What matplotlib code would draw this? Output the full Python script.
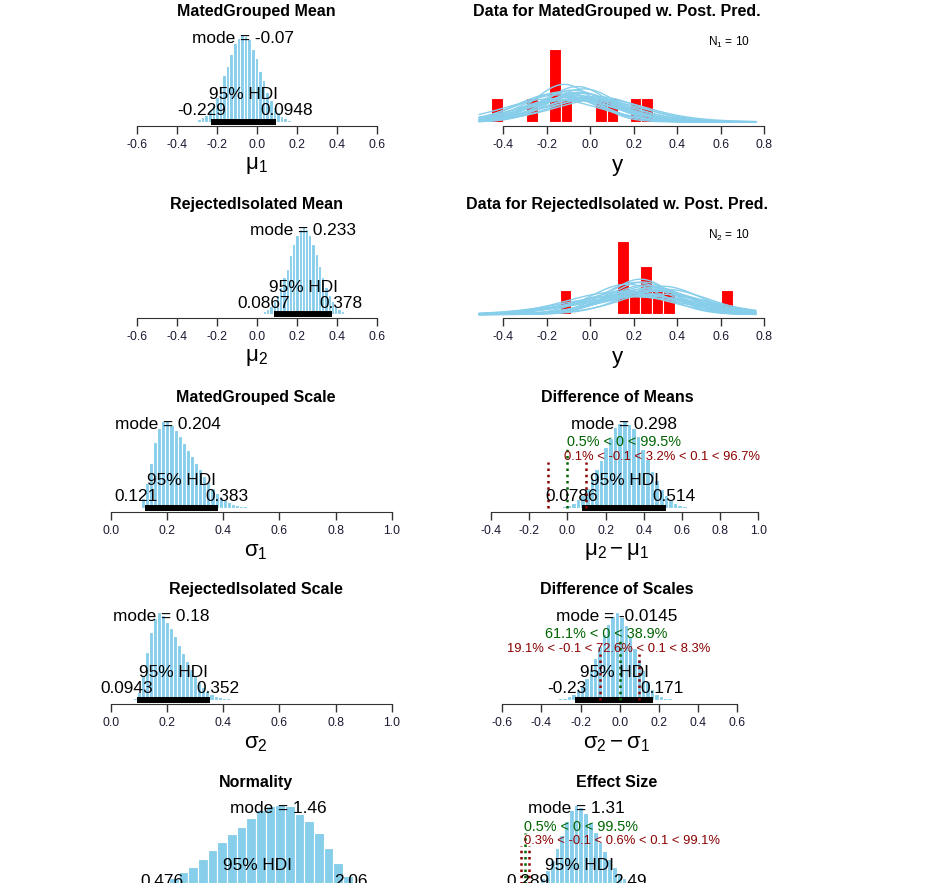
import math
import numpy as np
import matplotlib.pyplot as plt
from matplotlib.transforms import ScaledTranslation

plt.rcParams['font.family'] = ['Liberation Sans', 'DejaVu Sans']
plt.rcParams['mathtext.fontset'] = 'custom'
plt.rcParams['mathtext.rm'] = 'Liberation Sans'
plt.rcParams['mathtext.it'] = 'Liberation Sans'
plt.rcParams['mathtext.bf'] = 'Liberation Sans:bold'
plt.rcParams['axes.unicode_minus'] = False

groups = ["MatedGrouped", "RejectedIsolated"]

y1 = [-0.43, -0.27, -0.17, -0.16, -0.15, -0.11, 0.05, 0.10, 0.21, 0.26]
y2 = [-0.11, 0.14, 0.15, 0.16, 0.20, 0.25, 0.26, 0.31, 0.36, 0.63]
data_bin_w = 0.053
y1_first_edge = -0.4545
y2_first_edge = -0.1405

# posterior predictive draws (mu, sigma, nu) behind the light blue curves
pp_mu1 = [-0.12, -0.05, -0.15, -0.02, -0.08, -0.10, 0.03, -0.06, -0.18, -0.04,
          -0.09, 0.01, -0.13, -0.07, -0.03, -0.11, 0.05, -0.16, -0.06, -0.01]
pp_sigma1 = [0.136, 0.17, 0.19, 0.21, 0.16, 0.23, 0.20, 0.145, 0.22, 0.18,
             0.20, 0.23, 0.17, 0.19, 0.155, 0.21, 0.22, 0.18, 0.22, 0.20]
pp_mu2 = [0.23, 0.28, 0.18, 0.25, 0.31, 0.21, 0.15, 0.26, 0.33, 0.20,
          0.24, 0.12, 0.29, 0.22, 0.27, 0.19, 0.35, 0.25, 0.17, 0.30]
pp_sigma2 = [0.145, 0.19, 0.22, 0.17, 0.25, 0.16, 0.27, 0.20, 0.18, 0.29,
             0.155, 0.23, 0.21, 0.26, 0.18, 0.24, 0.20, 0.28, 0.17, 0.22]
pp_nu = [30, 12, 50, 8, 25, 40, 15, 60, 20, 35, 10, 80, 28, 18, 45, 22, 9, 33, 70, 26]

# posterior histograms: first bin centre, bin width, bar heights (relative density)
mu1_start, mu1_bw = -0.291, 0.018
mu1_hist = [3, 4.5, 7, 12, 17, 25, 35, 47, 56, 68, 79, 84, 88, 86, 83, 73, 64, 51, 42, 30,
            22, 15, 10, 6, 3.5, 2]
mu2_start, mu2_bw = 0.038, 0.0162
mu2_hist = [3, 5, 8, 13, 19, 27, 37, 46, 60, 71, 80, 86, 88, 86, 80, 71, 61, 49, 37, 27,
            19, 13, 8, 5, 3, 1.6]
sigma1_start, sigma1_bw = 0.114, 0.0146
sigma1_hist = [10, 25, 45, 66, 80, 87, 88, 83, 78, 72, 65, 58, 52, 45, 39, 32, 26, 20, 15, 11,
               8, 6, 4, 3, 2, 1.5]
sigma2_start, sigma2_bw = 0.087, 0.0143
sigma2_hist = [2, 8, 25, 48, 68, 82, 88, 85, 78, 72, 64, 55, 47, 39, 31, 24, 18, 13, 9, 6,
               4, 3, 2, 1.5, 1]
nu_start, nu_bw = 0.242, 0.088
nu_hist = [3, 6, 10, 15, 21, 26, 34, 43, 51, 59, 66, 75, 83, 88, 89, 88, 79, 72, 60, 45,
           30, 17, 9, 4, 2]
dmu_start, dmu_bw = -0.0166, 0.0242
dmu_hist = [1.5, 3, 5, 9, 13, 20, 29, 39, 48, 61, 70, 81, 85, 88, 84, 80, 72, 59, 49, 37,
            28, 19, 13, 8, 5, 3, 1.5]
dsig_start, dsig_bw = -0.304, 0.0223
dsig_hist = [1.5, 2, 3.5, 6, 10, 15, 22, 31, 42, 54, 66, 76, 84, 88, 83, 75, 64, 52, 41, 30,
             19, 11, 6, 3.5, 2, 1.5]
eff_start, eff_bw = -0.164, 0.122
eff_hist = [0.5, 1, 2, 4, 8, 14, 22, 32, 45, 58, 72, 83, 88, 86, 80, 71, 61, 51, 41, 33,
            25, 19, 14, 10, 7, 5, 3, 2]

# summaries
modes = {'mu1': -0.07, 'mu2': 0.233, 'sigma1': 0.204, 'sigma2': 0.18, 'nu': 1.46,
         'dmu': 0.298, 'dsig': -0.0145, 'eff': 1.31}
hdis = {'mu1': (-0.229, 0.0948), 'mu2': (0.0867, 0.378), 'sigma1': (0.121, 0.383),
        'sigma2': (0.0943, 0.352), 'nu': (0.476, 2.06), 'dmu': (0.0786, 0.514),
        'dsig': (-0.23, 0.171), 'eff': (0.289, 2.49)}
rope = (-0.1, 0.1)
cv_pct = {'dmu': (0.5, 99.5), 'dsig': (61.1, 38.9), 'eff': (0.5, 99.5)}
rope_pct = {'dmu': (0.1, 3.2, 96.7), 'dsig': (19.1, 72.6, 8.3), 'eff': (0.3, 0.6, 99.1)}

W, H = 950, 883
fig = plt.figure(figsize=(9.5, 8.83), dpi=100)
col_px = [(107, 405), (468, 766)]
row_axis_px = [125.5, 318, 511.5, 703.5, 896]
PLOT_H = 95


def t_pdf(x, mu, sigma, nu):
    z = (x - mu) / sigma
    c = math.exp(math.lgamma((nu + 1) / 2) - math.lgamma(nu / 2)) / math.sqrt(nu * math.pi)
    return c * (1 + z ** 2 / nu) ** (-(nu + 1) / 2) / sigma


def new_ax(col, row, zero_px, ppu, ticks, ymax, title, xlab):
    left, right = col_px[col]
    base = row_axis_px[row]
    ax = fig.add_axes([left / W, 1 - base / H, (right - left) / W, PLOT_H / H])
    ax.set_xlim((left - zero_px) / ppu, (right - zero_px) / ppu)
    ax.set_ylim(-0.04 * ymax, 1.04 * ymax)
    for s in ['left', 'right', 'top']:
        ax.spines[s].set_visible(False)
    ax.spines['bottom'].set_bounds(ticks[0], ticks[-1])
    ax.spines['bottom'].set_color('#333333')
    ax.set_yticks([])
    ax.set_xticks(ticks)
    ax.set_xticklabels([f"{t:.1f}" for t in ticks])
    ax.tick_params(axis='x', length=5.5, width=1, pad=4, labelsize=8.8,
                   color='#333333', labelcolor='#1a1a33')
    ax.set_title(title, fontsize=11.5, fontweight='bold', pad=10.4)
    ax.annotate(xlab, xy=(0.5, 0), xycoords='axes fraction', xytext=(0, -28.5),
                textcoords='offset points', ha='center', va='center', fontsize=16)
    ax.patch.set_visible(False)
    return ax


def put(ax, x, y, s, adj, dy_px=0, size=12.4, color='black'):
    t = ax.text(x, y, s, ha='left', va='baseline', fontsize=size, color=color, zorder=5)
    w = t.get_window_extent(renderer=fig.canvas.get_renderer()).width
    t.set_transform(ax.transData + ScaledTranslation(-adj * w / fig.dpi, dy_px / fig.dpi,
                                                     fig.dpi_scale_trans))


def post_panel(col, row, zero_px, ppu, ticks, start, bw, heights, key, title, xlab, comp=False):
    M = max(heights)
    ax = new_ax(col, row, zero_px, ppu, ticks, M, title, xlab)
    centers = start + bw * np.arange(len(heights))
    ax.bar(centers, heights, width=bw, color='#87CEEB', edgecolor='white', linewidth=0.8)
    hdi = hdis[key]
    mode = modes[key]
    ax.plot(hdi, [0, 0], color='black', lw=4.3, solid_capstyle='butt', zorder=4)
    put(ax, mode, 0.9 * M, f"mode = {mode}", 0.5)
    put(ax, np.mean(hdi), 0, "95% HDI", 0.5, dy_px=22.7)
    put(ax, hdi[0], 0, f"{hdi[0]}", 0.7, dy_px=6.7)
    put(ax, hdi[1], 0, f"{hdi[1]}", 0.3, dy_px=6.7)
    if comp:
        lo, hi = cv_pct[key]
        ax.plot([0, 0], [0, 0.96 * 0.7 * M], color='darkgreen', lw=1.8, ls=(0, (1, 1.5)), zorder=4)
        put(ax, 0, 0.7 * M, f"{lo}% < 0 < {hi}%", lo / 100, size=10.4, color='darkgreen')
        for r in rope:
            ax.plot([r, r], [0, 0.96 * 0.55 * M], color='darkred', lw=1.8, ls=(0, (1, 1.5)), zorder=4)
        a, b, c = rope_pct[key]
        put(ax, np.mean(rope), 0.55 * M, f"{a}% < {rope[0]} < {b}% < {rope[1]} < {c}%",
            (a + 0.5 * b) / 100, size=9.4, color='darkred')
    return ax


def data_panel(row, y, first_edge, mus, sigmas, title, nlabel):
    ymax = 6.8
    ax = new_ax(1, row, 590.3, 217.5, [-0.4, -0.2, 0.0, 0.2, 0.4, 0.6, 0.8], ymax, title, 'y')
    edges = first_edge + data_bin_w * np.arange(16)
    ax.hist(y, bins=edges, density=True, color='red', edgecolor='white', linewidth=0.8)
    xv = np.linspace(-0.51, 0.76, 200)
    for m, s, n in zip(mus, sigmas, pp_nu):
        ax.plot(xv, t_pdf(xv, m, s, n), color='#87CEEB', lw=1)
    ax.text(0.734, ymax * 0.985, nlabel, ha='right', va='top', fontsize=8.6)
    return ax


mu_ticks = [-0.6, -0.4, -0.2, 0.0, 0.2, 0.4, 0.6]
sig_ticks = [0.0, 0.2, 0.4, 0.6, 0.8, 1.0]

post_panel(0, 0, 257.0, 199.5, mu_ticks, mu1_start, mu1_bw, mu1_hist, 'mu1',
           f"{groups[0]} Mean", r'$\mathrm{\mu_1}$')
post_panel(0, 1, 257.0, 199.5, mu_ticks, mu2_start, mu2_bw, mu2_hist, 'mu2',
           f"{groups[1]} Mean", r'$\mathrm{\mu_2}$')
post_panel(0, 2, 110.7, 281.0, sig_ticks, sigma1_start, sigma1_bw, sigma1_hist, 'sigma1',
           f"{groups[0]} Scale", r'$\mathrm{\sigma_1}$')
post_panel(0, 3, 110.7, 281.0, sig_ticks, sigma2_start, sigma2_bw, sigma2_hist, 'sigma2',
           f"{groups[1]} Scale", r'$\mathrm{\sigma_2}$')
post_panel(0, 4, 118.0, 110.0, [0.0, 0.5, 1.0, 1.5, 2.0, 2.5], nu_start, nu_bw, nu_hist, 'nu',
           "Normality", r'$\mathrm{log10(\nu)}$')

data_panel(0, y1, y1_first_edge, pp_mu1, pp_sigma1,
           f"Data for {groups[0]} w. Post. Pred.", r'$\mathrm{N_1}$ = 10')
data_panel(1, y2, y2_first_edge, pp_mu2, pp_sigma2,
           f"Data for {groups[1]} w. Post. Pred.", r'$\mathrm{N_2}$ = 10')
post_panel(1, 2, 567.4, 190.9, [-0.4, -0.2, 0.0, 0.2, 0.4, 0.6, 0.8, 1.0], dmu_start, dmu_bw,
           dmu_hist, 'dmu', "Difference of Means", r'$\mathrm{\mu_2 - \mu_1}$', comp=True)
post_panel(1, 3, 619.8, 195.8, mu_ticks, dsig_start, dsig_bw, dsig_hist, 'dsig',
           "Difference of Scales", r'$\mathrm{\sigma_2 - \sigma_1}$', comp=True)
post_panel(1, 4, 525.0, 39.3, [0.0, 1.0, 2.0, 3.0, 4.0, 5.0, 6.0], eff_start, eff_bw, eff_hist,
           'eff', "Effect Size", r'$\mathrm{(\mu_2 - \mu_1)/\sqrt{(\sigma_1^2 + \sigma_2^2)/2}}$',
           comp=True)

fig.savefig('out.png', dpi=100)
